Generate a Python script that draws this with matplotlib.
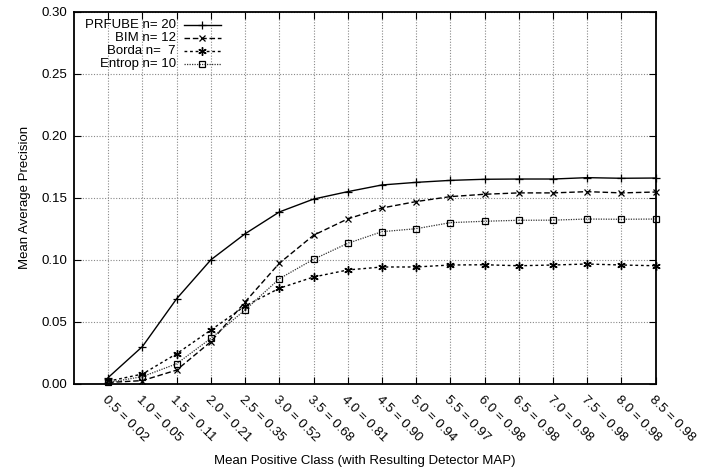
import matplotlib
matplotlib.use("Agg")
import matplotlib.pyplot as plt
from matplotlib.lines import Line2D

plt.rcParams['font.family'] = ['Liberation Sans', 'DejaVu Sans']

xlabels = ["0.5 = 0.02", "1.0 = 0.05", "1.5 = 0.11", "2.0 = 0.21", "2.5 = 0.35",
           "3.0 = 0.52", "3.5 = 0.68", "4.0 = 0.81", "4.5 = 0.90", "5.0 = 0.94",
           "5.5 = 0.97", "6.0 = 0.98", "6.5 = 0.98", "7.0 = 0.98", "7.5 = 0.98",
           "8.0 = 0.98", "8.5 = 0.98"]
positions = list(range(1, len(xlabels) + 1))

prfube = [0.005, 0.030, 0.0686, 0.100, 0.121, 0.1386, 0.149, 0.155, 0.1604, 0.1625,
          0.1641, 0.165, 0.1652, 0.1652, 0.1663, 0.1658, 0.166]
bim = [0.001, 0.0025, 0.011, 0.0339, 0.066, 0.0972, 0.1198, 0.133, 0.1418, 0.147,
       0.151, 0.1529, 0.154, 0.154, 0.155, 0.154, 0.1547]
borda = [0.002, 0.0078, 0.0242, 0.0433, 0.0627, 0.077, 0.0861, 0.0918, 0.0942, 0.0942,
         0.0958, 0.096, 0.0952, 0.0958, 0.0966, 0.0958, 0.0952]
entrop = [0.001, 0.0057, 0.0161, 0.0366, 0.0595, 0.0847, 0.1004, 0.1133, 0.1227, 0.1251,
          0.130, 0.1311, 0.1319, 0.132, 0.1329, 0.1327, 0.1329]

series_names = ["PRFUBE n= 20", "BIM n= 12", "Borda n=  7", "Entrop n= 10"]
yticks = [0.00, 0.05, 0.10, 0.15, 0.20, 0.25, 0.30]

FS = 9.5
fig = plt.figure(figsize=(7.12, 4.71), dpi=100)
ax = fig.add_axes([74/712, 1 - 383.7/471, (655.7 - 74)/712, (383.7 - 12)/471])

styles = [
    dict(color='black', lw=1.0, ls='-', marker='+', ms=6, mew=0.9),
    dict(color='black', lw=1.0, ls=(0, (4, 2)), marker='x', ms=5, mew=0.9),
    dict(color='black', lw=1.0, ls=(0, (2, 2)), marker=(6, 2, 0), ms=6, mew=1.0),
    dict(color='#333333', lw=0.9, ls=(0, (1, 1)), marker='s', ms=5, mew=0.9, mfc='none', mec='black'),
]
for data, st in zip([prfube, bim, borda, entrop], styles):
    ax.plot(positions, data, clip_on=False, zorder=3, **st)

ax.set_xlim(0, len(xlabels))
ax.set_ylim(0, 0.30)
ax.set_xticks(positions)
ax.set_xticklabels(xlabels, rotation=-45, ha='left', va='top', rotation_mode='anchor', fontsize=FS)
ax.set_yticks(yticks)
ax.set_yticklabels([f"{v:.2f}" for v in yticks], fontsize=FS)
ax.tick_params(direction='in', top=True, right=True, length=5, width=0.8, pad=5)
ax.tick_params(axis='x', pad=7)
ax.grid(True, color='#888888', ls=(0, (1, 1.5)), lw=0.8)
ax.set_axisbelow(True)
for sp in ax.spines.values():
    sp.set_linewidth(1.3)

ax.set_xlabel("Mean Positive Class (with Resulting Detector MAP)", fontsize=FS, labelpad=8)
ax.set_ylabel("Mean Average Precision", fontsize=FS, labelpad=7)

# gnuplot-style legend: right-aligned text, sample on the right
for i, (name, st) in enumerate(zip(series_names, styles)):
    yy = 1 - (25 - 12 + i * 13) / (383.7 - 12)
    ax.text(0.175, yy, name, transform=ax.transAxes, ha='right', va='center', fontsize=FS)
    ln = Line2D([0.189, 0.252], [yy, yy], transform=ax.transAxes,
                **{k: v for k, v in st.items() if k not in ('marker', 'ms', 'mew', 'mfc', 'mec')})
    ax.add_line(ln)
    mk = Line2D([0.2205], [yy], transform=ax.transAxes, ls='none', color=st['color'],
                marker=st['marker'], ms=st['ms'], mew=st['mew'],
                mfc=st.get('mfc', st['color']), mec=st.get('mec', st['color']))
    ax.add_line(mk)

fig.savefig("out.png", dpi=100)
